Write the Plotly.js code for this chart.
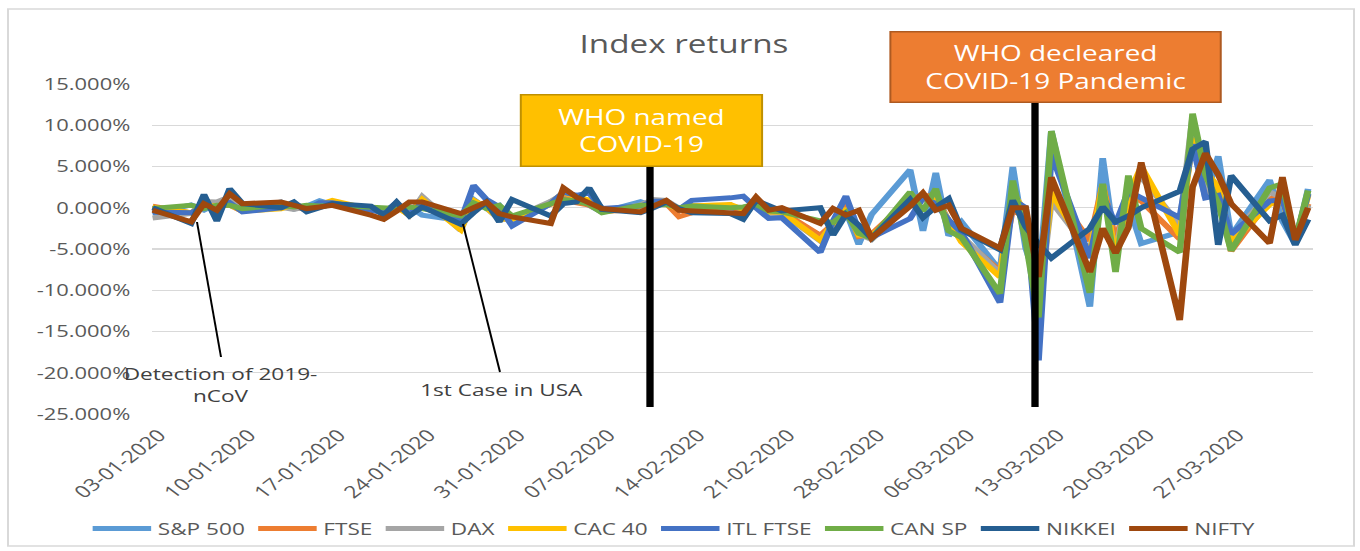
<!DOCTYPE html>
<html><head><meta charset="utf-8">
<script src="https://cdn.plot.ly/plotly-3.0.1.min.js"></script>
<style>
html,body{margin:0;padding:0;background:#fff;overflow:hidden;width:1360px;height:551px;}
#wrap{width:1023px;height:551px;transform:scaleX(1.329423);transform-origin:0 0;}
#chart{width:1023px;height:551px;}
</style></head><body>
<div id="wrap"><div id="chart"></div></div>
<script>
const dates = [
'2020-01-03','2020-01-06','2020-01-07','2020-01-08','2020-01-09','2020-01-10',
'2020-01-13','2020-01-14','2020-01-15','2020-01-16','2020-01-17',
'2020-01-20','2020-01-21','2020-01-22','2020-01-23','2020-01-24',
'2020-01-27','2020-01-28','2020-01-29','2020-01-30','2020-01-31',
'2020-02-03','2020-02-04','2020-02-05','2020-02-06','2020-02-07',
'2020-02-10','2020-02-11','2020-02-12','2020-02-13','2020-02-14',
'2020-02-17','2020-02-18','2020-02-19','2020-02-20','2020-02-21',
'2020-02-24','2020-02-25','2020-02-26','2020-02-27','2020-02-28',
'2020-03-02','2020-03-03','2020-03-04','2020-03-05','2020-03-06',
'2020-03-09','2020-03-10','2020-03-11','2020-03-12','2020-03-13',
'2020-03-16','2020-03-17','2020-03-18','2020-03-19','2020-03-20',
'2020-03-23','2020-03-24','2020-03-25','2020-03-26','2020-03-27',
'2020-03-30','2020-03-31','2020-04-01','2020-04-02'];

// daily returns in percent
const sp500 = [
-0.71,0.35,-0.28,0.49,0.67,-0.29,
0.70,-0.15,0.19,0.84,0.39,
0.00,-0.27,0.03,0.11,-0.90,
-1.57,1.01,-0.09,0.31,-1.77,
0.73,1.50,1.13,0.33,-0.54,
0.73,0.17,0.65,-0.16,0.18,
0.00,-0.29,0.47,-0.38,-1.05,
-3.35,-3.03,-0.38,-4.42,-0.82,
4.60,-2.81,4.22,-3.39,-1.71,
-7.60,4.94,-4.89,-9.51,9.29,
-11.98,6.00,-5.18,0.47,-4.34,
-2.93,9.38,1.15,6.24,-3.37,
3.35,-1.60,-4.41,2.28];
const ftse = [
0.19,-0.63,0.03,0.29,0.31,-0.44,
0.44,0.22,-0.30,0.10,0.57,
-0.09,-0.55,0.16,-0.91,0.86,
-2.29,0.43,0.54,-1.38,-1.30,
0.42,1.63,0.61,0.31,-0.46,
-0.23,0.70,0.53,-1.09,-0.59,
0.35,-0.66,1.03,-0.32,-0.44,
-3.34,-1.94,0.38,-3.49,-3.18,
1.13,1.45,1.45,-1.62,-3.62,
-7.69,-0.10,-1.40,-10.87,2.46,
-4.01,2.79,-4.05,1.41,0.82,
-3.79,9.05,4.45,2.24,-5.25,
0.97,1.95,-3.83,0.47];
const dax = [
-1.25,-0.70,0.76,0.71,1.31,-0.06,
0.06,-0.21,0.14,0.33,0.27,
0.04,-0.30,0.29,-0.94,1.36,
-2.74,0.88,-0.02,-1.41,-1.33,
0.76,1.71,1.48,0.80,-0.46,
0.34,0.99,0.89,-0.05,0.27,
0.29,-0.22,0.79,-0.91,-0.63,
-4.01,-1.88,-0.11,-3.19,-3.86,
0.50,1.08,1.11,-1.51,-3.37,
-7.94,1.41,-0.35,-12.24,0.77,
-5.31,2.25,-5.56,2.48,3.70,
-2.10,10.98,1.79,1.28,-3.68,
1.90,1.22,-3.94,0.32];
const cac40 = [
0.06,-0.61,0.26,0.25,0.40,-0.41,
-0.14,0.39,-0.13,0.42,0.90,
-0.19,-0.60,0.11,-0.91,1.01,
-2.68,0.90,0.02,-1.34,-1.40,
0.43,1.86,1.30,0.94,-0.41,
0.02,0.71,0.48,-0.20,0.22,
0.39,-0.21,0.78,-0.51,-0.54,
-3.94,-1.94,-0.11,-3.32,-3.38,
0.46,1.03,0.94,-1.62,-4.14,
-8.39,1.81,-0.59,-12.28,1.83,
-5.75,2.84,-5.94,1.44,5.01,
-3.32,8.42,4.47,2.51,-4.23,
0.39,1.04,-4.30,1.54];
const itlFtse = [
-0.50,-0.60,0.20,0.10,0.60,-0.50,
0.00,0.50,-0.20,0.60,0.60,
-0.20,-0.60,0.60,-0.80,0.60,
-1.60,2.70,1.00,0.10,-2.20,
0.50,1.90,1.50,1.80,-0.10,
0.20,0.80,0.80,-0.20,0.90,
1.20,1.40,0.00,-1.30,-1.20,
-5.40,-1.60,1.40,-2.80,-3.60,
-1.30,1.20,0.50,-1.50,-3.00,
-11.50,1.00,0.00,-18.50,6.50,
-6.10,1.50,-2.00,2.00,1.20,
-1.20,7.70,1.20,1.50,-3.20,
0.80,1.00,-3.90,1.70];
const canSp = [
-0.10,0.30,-0.10,0.30,0.30,-0.10,
0.30,0.10,0.30,0.20,0.30,
0.10,0.00,-0.10,0.10,-0.10,
-1.00,0.60,-0.10,0.30,-1.00,
0.60,1.00,0.80,0.40,-0.60,
0.30,0.30,0.40,0.00,0.20,
0.00,0.10,0.40,-0.40,-0.50,
-1.60,-1.80,-0.60,-3.10,-3.70,
1.90,-0.40,2.30,-2.80,-3.60,
-10.40,3.30,-4.00,-13.30,9.30,
-10.30,2.90,-7.80,3.90,-2.50,
-5.40,11.40,4.00,0.50,-5.20,
2.40,2.90,-4.00,2.10];
const nikkei = [
0.00,-1.90,1.60,-1.60,2.30,0.50,
0.00,0.70,-0.50,0.00,0.50,
0.20,-0.90,0.70,-1.00,0.10,
-2.00,-0.60,0.70,-1.70,1.00,
-1.00,0.50,0.70,2.40,-0.20,
-0.60,0.00,0.70,-0.10,-0.60,
-0.70,-1.40,0.90,0.30,-0.40,
0.00,-3.30,-0.80,-2.10,-3.70,
1.00,-1.20,0.10,1.10,-2.70,
-5.10,0.90,-2.30,-4.40,-6.10,
-2.50,0.10,-1.70,-1.00,0.00,
2.00,7.10,8.00,-4.50,3.90,
-1.60,-0.90,-4.50,-1.40];
const nifty = [
-0.30,-1.70,0.50,-0.30,1.70,0.50,
0.70,0.30,-0.10,0.10,0.30,
-0.90,-1.40,-0.40,0.70,0.70,
-0.70,0.00,0.70,-0.70,-1.10,
-1.90,2.40,1.30,0.60,-0.10,
-0.50,0.20,0.90,-0.30,-0.40,
-0.70,-0.70,1.30,-0.30,0.00,
-1.90,-0.10,-0.90,-0.30,-3.70,
0.20,1.80,-0.30,0.30,-2.50,
-4.90,0.00,0.00,-8.40,3.70,
-7.80,-2.50,-5.50,-2.40,5.50,
-13.60,2.50,6.60,4.00,0.50,
-4.30,3.70,-3.90,0.00];

const seriesNames = ['S&P 500','FTSE','DAX','CAC 40','ITL FTSE','CAN SP','NIKKEI','NIFTY'];
const seriesValues = [sp500, ftse, dax, cac40, itlFtse, canSp, nikkei, nifty];
const seriesColors = ['#5B9BD5','#ED7D31','#A5A5A5','#FFC000','#4472C4','#70AD47','#255E91','#9E480E'];

const xTickDates = ['2020-01-03','2020-01-10','2020-01-17','2020-01-24','2020-01-31','2020-02-07','2020-02-14','2020-02-21','2020-02-28','2020-03-06','2020-03-13','2020-03-20','2020-03-27'];
const xTickLabels = ['03-01-2020','10-01-2020','17-01-2020','24-01-2020','31-01-2020','07-02-2020','14-02-2020','21-02-2020','28-02-2020','06-03-2020','13-03-2020','20-03-2020','27-03-2020'];
const yTickVals = [-25,-20,-15,-10,-5,0,5,10,15];
const yTickLabels = ['-25.000%','-20.000%','-15.000%','-10.000%','-5.000%','0.000%','5.000%','10.000%','15.000%'];

// geometry helpers (reference pixel -> paper coords)
const W = 1023, H = 551, S = 1360 / W;
const ML = 114, MR = 35, MT = 84, MB = 137;
const PW = W - ML - MR, PH = H - MT - MB;
const px = a => (a / S - ML) / PW;
const py = a => (H - MB - a) / PH;

const FONT = 'Open Sans, Noto Sans, sans-serif';
const GRAY = '#595959';

const traces = seriesNames.map((n, i) => ({
  type: 'scatter', mode: 'lines', name: n,
  x: dates, y: seriesValues[i],
  line: {color: seriesColors[i], width: 5},
  hoverinfo: 'skip'
}));

const layout = {
  width: W, height: H,
  margin: {l: ML, r: MR, t: MT, b: MB, pad: 0, autoexpand: false},
  paper_bgcolor: '#ffffff', plot_bgcolor: '#ffffff',
  showlegend: true,
  title: {text: 'Index returns', font: {family: FONT, size: 25, color: GRAY},
          xref: 'paper', x: px(684), xanchor: 'center', yref: 'container', y: 1 - 44 / H, yanchor: 'middle'},
  xaxis: {type: 'date', range: ['2020-01-02 22:00', '2020-04-02 10:00'],
          tickmode: 'array', tickvals: xTickDates, ticktext: xTickLabels,
          tickangle: -45, tickfont: {family: FONT, size: 17, color: GRAY},
          showgrid: false, zeroline: false, showline: false, ticks: '',
          ticklabelstandoff: 7, ticklabelshift: 5},
  yaxis: {range: [-25, 15], tickmode: 'array', tickvals: yTickVals, ticktext: yTickLabels,
          tickfont: {family: FONT, size: 16.5, color: GRAY},
          showgrid: true, gridcolor: '#D9D9D9', gridwidth: 1.4,
          zeroline: false, showline: false, ticks: '', ticklabelstandoff: 15},
  legend: {orientation: 'h', x: px(86), xanchor: 'left', y: py(529), yanchor: 'middle',
           itemwidth: 44,
           font: {family: FONT, size: 17, color: GRAY}, bgcolor: 'rgba(0,0,0,0)', traceorder: 'normal'},
  shapes: [
    {type: 'rect', xref: 'paper', yref: 'paper', x0: px(8), x1: px(1354), y0: py(546), y1: py(9),
     line: {color: '#D9D9D9', width: 1.5}, fillcolor: 'rgba(0,0,0,0)', layer: 'below'},
    {type: 'line', xref: 'paper', yref: 'paper', x0: px(650), x1: px(650), y0: py(166), y1: py(407),
     line: {color: '#000000', width: 5.5}},
    {type: 'line', xref: 'paper', yref: 'paper', x0: px(1035), x1: px(1035), y0: py(102), y1: py(407),
     line: {color: '#000000', width: 5.5}},
    {type: 'line', xref: 'paper', yref: 'paper', x0: px(197), x1: px(221), y0: py(222), y1: py(357),
     line: {color: '#000000', width: 1.5}},
    {type: 'line', xref: 'paper', yref: 'paper', x0: px(463), x1: px(500), y0: py(224), y1: py(372),
     line: {color: '#000000', width: 1.5}}
  ],
  annotations: [
    {xref: 'paper', yref: 'paper', x: px(641), y: py(130), xanchor: 'center', yanchor: 'middle',
     text: 'WHO named<br>COVID-19', showarrow: false, align: 'center', valign: 'middle',
     width: 180, height: 70, bgcolor: '#FFC000', bordercolor: '#BF9000', borderwidth: 1.5, borderpad: 0,
     font: {family: FONT, size: 21, color: '#ffffff'}},
    {xref: 'paper', yref: 'paper', x: px(1055), y: py(66.5), xanchor: 'center', yanchor: 'middle',
     text: 'WHO decleared<br>COVID-19 Pandemic', showarrow: false, align: 'center', valign: 'middle',
     width: 247, height: 69, bgcolor: '#ED7D31', bordercolor: '#AE5A21', borderwidth: 1.5, borderpad: 0,
     font: {family: FONT, size: 21, color: '#ffffff'}},
    {xref: 'paper', yref: 'paper', x: px(221), y: py(384), xanchor: 'center', yanchor: 'middle',
     text: 'Detection of 2019-<br>nCoV', showarrow: false, align: 'center',
     font: {family: FONT, size: 17, color: '#404040'}},
    {xref: 'paper', yref: 'paper', x: px(501), y: py(389), xanchor: 'center', yanchor: 'middle',
     text: '1st Case in USA', showarrow: false, align: 'center',
     font: {family: FONT, size: 17, color: '#404040'}}
  ]
};

Plotly.newPlot('chart', traces, layout, {staticPlot: true, displayModeBar: false});
</script>
</body></html>
